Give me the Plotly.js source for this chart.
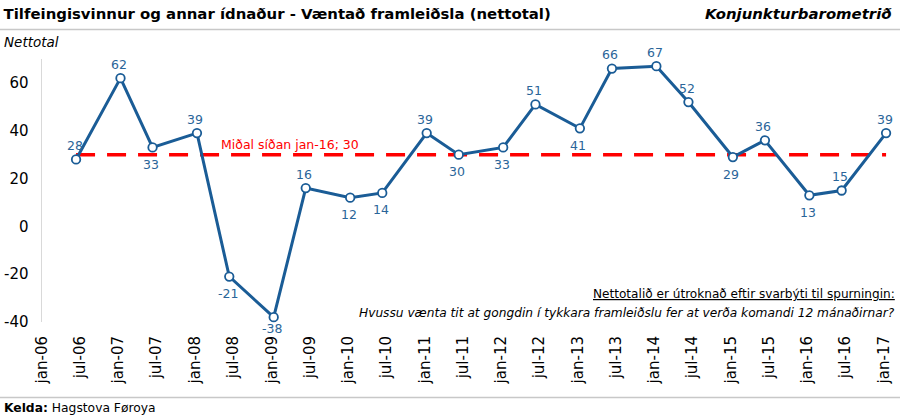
<!DOCTYPE html>
<html>
<head>
<meta charset="utf-8">
<script src="https://cdn.plot.ly/plotly-3.0.1.min.js"></script>
<style>html,body{margin:0;padding:0;background:#fff;}#chart{width:900px;height:420px;}</style>
</head>
<body>
<div id="chart"></div>
<script>
// Survey dates (June and January rounds)
const surveyDates = ['2006-06-12','2007-01-10','2007-06-12','2008-01-10','2008-06-12','2009-01-10','2009-06-12','2010-01-10','2010-06-12','2011-01-10','2011-06-12','2012-01-10','2012-06-12','2013-01-10','2013-06-12','2014-01-10','2014-06-12','2015-01-10','2015-06-12','2016-01-10','2016-06-12','2017-01-10'];
const nettotal = [28,62,33,39,-21,-38,16,12,14,39,30,33,51,41,66,67,52,29,36,13,15,39];
const labelSide = ['top','top','bottom','top','bottom','bottom','top','bottom','bottom','top','bottom','bottom','top','bottom','top','top','top','bottom','top','bottom','top','top'];
const averageValue = 30;
const averageLabel = 'Miðal síðan jan-16; 30';
const tickDates = ['2006-01-01','2006-07-01','2007-01-01','2007-07-01','2008-01-01','2008-07-01','2009-01-01','2009-07-01','2010-01-01','2010-07-01','2011-01-01','2011-07-01','2012-01-01','2012-07-01','2013-01-01','2013-07-01','2014-01-01','2014-07-01','2015-01-01','2015-07-01','2016-01-01','2016-07-01','2017-01-01'];
const tickLabels = ['jan-06','jul-06','jan-07','jul-07','jan-08','jul-08','jan-09','jul-09','jan-10','jul-10','jan-11','jul-11','jan-12','jul-12','jan-13','jul-13','jan-14','jul-14','jan-15','jul-15','jan-16','jul-16','jan-17'];
const yTickValues = [-40,-20,0,20,40,60];
const yTickLabels = ['-40','-20','0','20','40','60'];

const FONT = 'DejaVu Sans, Verdana, sans-serif';
const BLUE = '#1A5C96';
const LABEL_BLUE = '#2A6599';
const xRange = ['2005-12-31 12:00','2017-01-24'];
const yRange = [-40, 70];
const PX_PER_UNIT = 263 / (yRange[1] - yRange[0]);

const traces = [
  {
    x: [surveyDates[0], surveyDates[surveyDates.length-1]],
    y: [averageValue, averageValue],
    type: 'scatter', mode: 'lines',
    line: {color: '#FF0000', width: 3.5, dash: '19px,12px'},
    hoverinfo: 'skip', showlegend: false
  },
  {
    x: surveyDates, y: nettotal,
    type: 'scatter', mode: 'lines+markers',
    line: {color: BLUE, width: 3},
    marker: {symbol: 'circle', size: 8.5, color: '#ffffff', line: {color: BLUE, width: 1.8}},
    cliponaxis: false, showlegend: false
  }
];

const pointLabels = nettotal.map((v, i) => {
  const below = Math.max(-17, -((v - yRange[0]) * PX_PER_UNIT + 6));
  return {
    text: String(v), x: surveyDates[i], y: v, xref: 'x', yref: 'y',
    xanchor: 'center', yanchor: 'middle', xshift: -1.5,
    yshift: labelSide[i] === 'top' ? 14 : below,
    showarrow: false, font: {family: FONT, size: 12.5, color: LABEL_BLUE}
  };
});

const layout = {
  width: 900, height: 420,
  margin: {l: 42, r: 11, t: 59, b: 98},
  paper_bgcolor: '#ffffff', plot_bgcolor: 'rgba(0,0,0,0)',
  font: {family: FONT, color: '#000'},
  showlegend: false,
  title: {
    text: 'Tilfeingisvinnur og annar ídnaður - Væntað framleiðsla (nettotal)',
    font: {family: FONT, size: 14.9, color: '#000', weight: 'bold'},
    xref: 'container', yref: 'container', x: 0.004, xanchor: 'left', y: 0.967, yanchor: 'middle'
  },
  xaxis: {
    type: 'date', range: xRange,
    tickmode: 'array', tickvals: tickDates, ticktext: tickLabels,
    tickangle: -90, tickfont: {family: FONT, size: 15, color: '#000'},
    ticks: '', ticklabelstandoff: 10,
    showgrid: false, zeroline: false, showline: false, fixedrange: true
  },
  xaxis2: {
    type: 'date', range: xRange, overlaying: 'x', anchor: 'free', position: -yRange[0]/(yRange[1]-yRange[0]), side: 'bottom',
    tickmode: 'array', tickvals: tickDates, showticklabels: false,
    ticks: 'outside', ticklen: 4, tickcolor: '#bfbfbf', tickwidth: 1,
    showline: true, linecolor: '#d9d9d9', linewidth: 1.5,
    showgrid: false, zeroline: false
  },
  yaxis: {
    range: yRange,
    tickmode: 'array', tickvals: yTickValues, ticktext: yTickLabels,
    tickfont: {family: FONT, size: 15, color: '#000'},
    ticks: '', ticklabelstandoff: 9,
    showgrid: false, zeroline: false, showline: true, linecolor: '#d9d9d9', linewidth: 1.5
  },
  shapes: [
    {type: 'line', xref: 'paper', yref: 'paper', x0: -42/847, x1: 858/847, y0: (321.6-29)/263, y1: (321.6-29)/263, line: {color: '#c8c8c8', width: 1.5}},
    {type: 'line', xref: 'paper', yref: 'paper', x0: -42/847, x1: 858/847, y0: (321.6-397)/263, y1: (321.6-397)/263, line: {color: '#c8c8c8', width: 1.5}}
  ],
  annotations: [
    {text: '<b><i>Konjunkturbarometrið</i></b>', xref: 'paper', yref: 'paper', x: (894-42)/847, xanchor: 'right', y: (321.6-14)/263, yanchor: 'middle', showarrow: false, font: {family: FONT, size: 14.9, color: '#000'}},
    {text: '<i>Nettotal</i>', xref: 'paper', yref: 'paper', x: (2-42)/847, xanchor: 'left', y: (321.6-42)/263, yanchor: 'middle', showarrow: false, font: {family: FONT, size: 13.5, color: '#000'}},
    {text: averageLabel, xref: 'paper', yref: 'y', x: (290-42)/847, xanchor: 'center', y: averageValue, yanchor: 'bottom', yshift: 1, showarrow: false, font: {family: FONT, size: 12.5, color: '#FF0000'}},
    {text: '<u>Nettotalið er útroknað eftir svarbýti til spurningin:</u>', xref: 'paper', yref: 'paper', x: (897-42)/847, xanchor: 'right', y: (321.6-294)/263, yanchor: 'middle', showarrow: false, font: {family: FONT, size: 12.1, color: '#000'}},
    {text: '<i>Hvussu vænta tit at gongdin í tykkara framleiðslu fer at verða komandi 12 mánaðirnar?</i>', xref: 'paper', yref: 'paper', x: (897-42)/847, xanchor: 'right', y: (321.6-313)/263, yanchor: 'middle', showarrow: false, font: {family: FONT, size: 12.2, color: '#000'}},
    {text: '<b>Kelda:</b> Hagstova Føroya', xref: 'paper', yref: 'paper', x: (2-42)/847, xanchor: 'left', y: (321.6-408)/263, yanchor: 'middle', showarrow: false, font: {family: FONT, size: 12.3, color: '#000'}}
  ].concat(pointLabels)
};

Plotly.newPlot('chart', traces, layout, {displayModeBar: false, staticPlot: true});
</script>
</body>
</html>
